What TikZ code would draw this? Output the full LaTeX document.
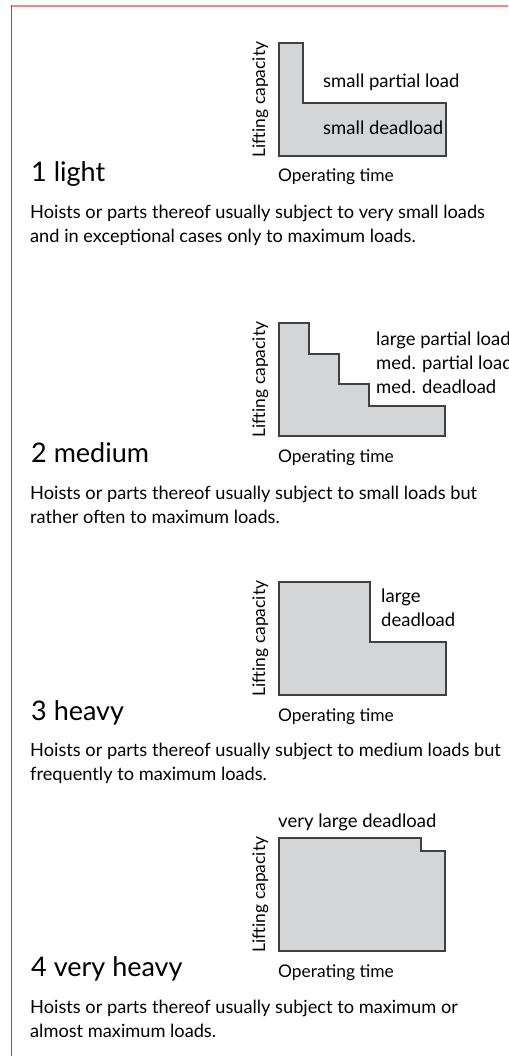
\documentclass[tikz,border=0pt]{standalone}
\usepackage{fontspec}
\setmainfont{Lato}
\usetikzlibrary{positioning}

\definecolor{framered}{RGB}{232,40,40}
\definecolor{framepink}{RGB}{255,128,128}
\definecolor{loadgray}{RGB}{212,213,215}

\tikzset{
    loadarea/.style={fill=loadgray, draw=black!75, line width=1.1pt},
    axislabel/.style={font=\fontsize{17.4}{20}\selectfont, inner sep=0pt},
    loadlabel/.style={font=\fontsize{18.5}{24}\selectfont, anchor=base west, inner sep=0pt, align=left},
    classtitle/.style={font=\fontsize{27}{30}\selectfont, anchor=base west, inner sep=0pt},
    descr/.style={font=\fontsize{18.2}{24}\selectfont, anchor=base west, inner sep=0pt, align=left},
}

\begin{document}
\begin{tikzpicture}[x=1pt, y=-1pt]
    \useasboundingbox (0,0) rectangle (508,1056);

    % Frame
    \draw[framepink, line width=2pt] (11,6) -- (508,6);
    \draw[framered, line width=1pt] (11.5,5) -- (11.5,1056);

    % Axis labels of the four charts
    \foreach \ytop/\ybot [count=\i] in {43/156, 323/436, 582/695, 838/951} {
        \node[axislabel, rotate=90, anchor=base] (lift\i) at (265,{(\ytop+\ybot)/2}) {Lifting capacity};
        \node[axislabel, anchor=base west] (time\i) at (278,\ybot+26) {Operating time};
    }

    % 1 light
    \draw[loadarea] (279,43) -- (303,43) -- (303,103) -- (446,103) -- (446,156) -- (279,156) -- cycle;
    \node[loadlabel] (spl) at (323,88) {small partial load};
    \node[loadlabel] (sdl) at (323,135) {small deadload};
    \node[classtitle] (light) at (31,182) {1 light};
    \node[descr] (txtlight) at (30,243) {Hoists or parts thereof usually subject to very small loads\\and in exceptional cases only to maximum loads.};

    % 2 medium
    \draw[loadarea] (279,323) -- (309,323) -- (309,354) -- (339,354) -- (339,384) -- (369,384)
        -- (369,406) -- (445,406) -- (445,436) -- (279,436) -- cycle;
    \node[loadlabel] (lpl) at (376,345) {large partial load};
    \node[loadlabel] (mpl) at (376,369) {med. partial load};
    \node[loadlabel] (mdl) at (376,393) {med. deadload};
    \node[classtitle] (medium) at (31,462) {2 medium};
    \node[descr] (txtmedium) at (30,523) {Hoists or parts thereof usually subject to small loads but\\rather often to maximum loads.};

    % 3 heavy
    \draw[loadarea] (279,582) -- (370,582) -- (370,642) -- (446,642) -- (446,695) -- (279,695) -- cycle;
    \node[loadlabel] (ldl) at (381,626) {large\\deadload};
    \node[classtitle] (heavy) at (31,720) {3 heavy};
    \node[descr] (txtheavy) at (30,780) {Hoists or parts thereof usually subject to medium loads but\\frequently to maximum loads.};

    % 4 very heavy
    \draw[loadarea] (279,838) -- (421,838) -- (421,851) -- (445,851) -- (445,951) -- (279,951) -- cycle;
    \node[loadlabel] (vldl) at (278,827) {very large deadload};
    \node[classtitle] (vheavy) at (31,976) {4 very heavy};
    \node[descr] (txtvheavy) at (30,1037) {Hoists or parts thereof usually subject to maximum or\\almost maximum loads.};
\end{tikzpicture}
\end{document}
